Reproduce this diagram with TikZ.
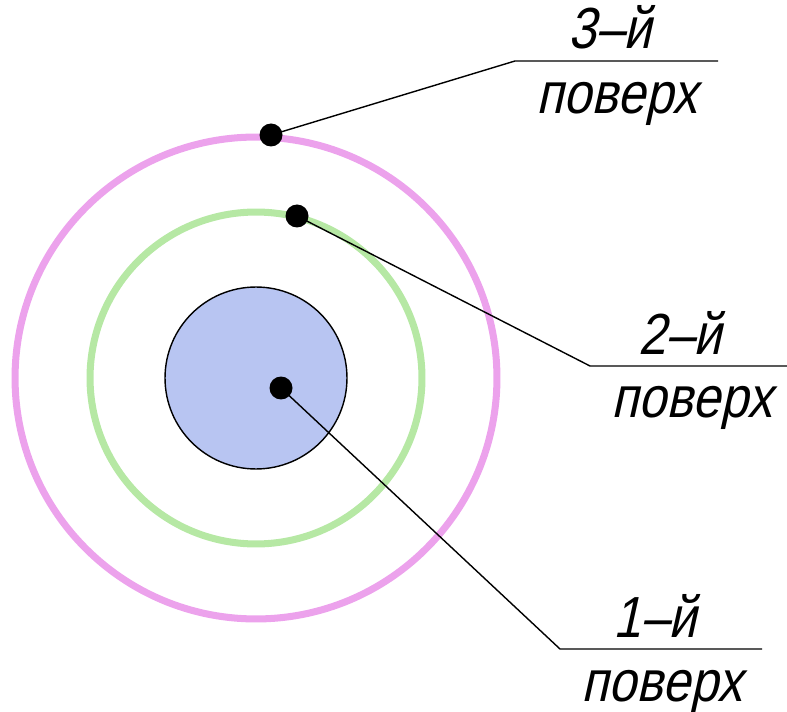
\documentclass[tikz,border=0pt]{standalone}
\usepackage{fontspec}
\usepackage{xcolor}
\usepackage{tikz}
\usetikzlibrary{positioning}
\newfontfamily\gostfont[FakeStretch=0.86,FakeSlant=0.22]{Liberation Sans}
\definecolor{ringpink}{RGB}{236,162,236}
\definecolor{ringgreen}{RGB}{182,232,164}
\definecolor{coreblue}{RGB}{184,197,242}

\begin{document}
\begin{tikzpicture}[x=0.02cm,y=-0.02cm,
   ring/.style={line width=4pt},
   dot/.style={circle,fill=black,inner sep=0pt,minimum size=0.46cm},
   leader/.style={line width=0.8pt},
   lbl/.style={font=\gostfont\fontsize{33}{38}\selectfont,inner sep=0pt}]
  \useasboundingbox (0,0) rectangle (787,712);
  \coordinate (c) at (256,378);
  % layers
  \draw[ring,draw=ringpink] (c) circle[radius=4.82cm];
  \draw[ring,draw=ringgreen] (c) circle[radius=3.32cm];
  \draw[line width=0.8pt,fill=coreblue] (c) circle[radius=1.82cm];
  % points
  \node[dot] (d3) at (271,135) {};
  \node[dot] (d2) at (297,216) {};
  \node[dot] (d1) at (281,388) {};
  % leaders
  \coordinate (k3) at (515,61);  \coordinate (e3) at (718,61);
  \coordinate (k2) at (590,366); \coordinate (e2) at (787,366);
  \coordinate (k1) at (560,649); \coordinate (e1) at (762,649);
  \draw[leader] (d3.center) -- (k3) -- (e3);
  \draw[leader] (d2.center) -- (k2) -- (e2);
  \draw[leader] (d1.center) -- (k1) -- (e1);
  % labels
  \node[lbl] (t3) at (610,27) {3–й};
  \node[lbl] (s3) at (617,104) {поверх};
  \node[lbl] (t2) at (680,333) {2–й};
  \node[lbl] (s2) at (692,408) {поверх};
  \node[lbl] (t1) at (655,616) {1–й};
  \node[lbl] (s1) at (662,692) {поверх};
\end{tikzpicture}
\end{document}
